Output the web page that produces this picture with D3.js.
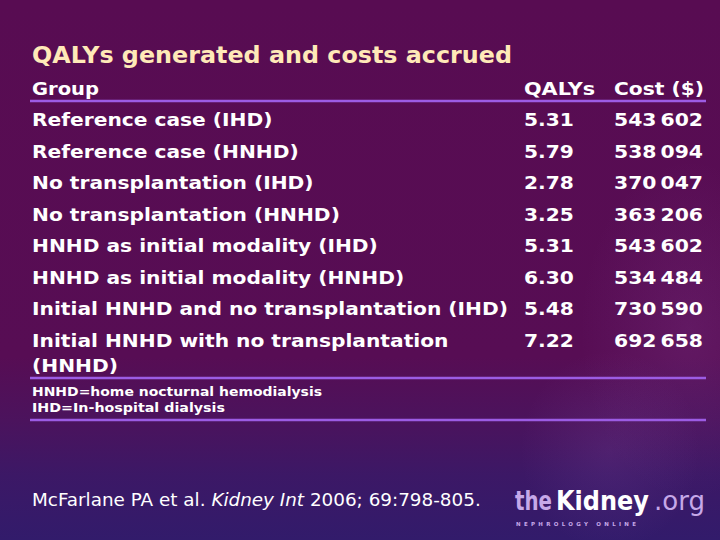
<!DOCTYPE html>
<html><head><meta charset="utf-8">
<script src="https://cdn.jsdelivr.net/npm/d3@7/dist/d3.min.js"></script>
<style>html,body{margin:0;padding:0;background:#580c52;}svg{display:block;}</style>
</head><body>
<script>
const title = "QALYs generated and costs accrued";
const headers = ["Group", "QALYs", "Cost ($)"];
const groups = [
  "Reference case (IHD)",
  "Reference case (HNHD)",
  "No transplantation (IHD)",
  "No transplantation (HNHD)",
  "HNHD as initial modality (IHD)",
  "HNHD as initial modality (HNHD)",
  "Initial HNHD and no transplantation (IHD)",
  "Initial HNHD with no transplantation\n(HNHD)"
];
const qalys = [5.31, 5.79, 2.78, 3.25, 5.31, 6.30, 5.48, 7.22];
const costs = [543602, 538094, 370047, 363206, 543602, 534484, 730590, 692658];
const footnotes = ["HNHD=home nocturnal hemodialysis", "IHD=In-hospital dialysis"];
const citation = [["McFarlane PA et al. ", "normal"], ["Kidney Int", "italic"], [" 2006; 69:798-805.", "normal"]];

const W = 720, H = 540;
const FONT = "'DejaVu Sans', Verdana, sans-serif";
const svg = d3.select("body").append("svg").attr("width", W).attr("height", H);
const defs = svg.append("defs");
const bg = defs.append("linearGradient").attr("id", "bg").attr("x1", 0).attr("x2", 0).attr("y1", 0).attr("y2", 1);
[[0, "#580c52"], [0.66, "#570d54"], [0.78, "#4b135d"], [0.88, "#3c1866"], [1, "#321b6b"]]
  .forEach(([o, c]) => bg.append("stop").attr("offset", o).attr("stop-color", c));
svg.append("rect").attr("width", W).attr("height", H).attr("fill", "url(#bg)");

// faint decorative glow on the right
const rg = defs.append("radialGradient").attr("id", "glow");
rg.append("stop").attr("offset", 0).attr("stop-color", "#b070d0").attr("stop-opacity", 0.12);
rg.append("stop").attr("offset", 1).attr("stop-color", "#b070d0").attr("stop-opacity", 0);
svg.append("ellipse").attr("cx", 690).attr("cy", 330).attr("rx", 110).attr("ry", 170).attr("fill", "url(#glow)");
svg.append("ellipse").attr("cx", 610).attr("cy", 450).attr("rx", 90).attr("ry", 100).attr("fill", "url(#glow)");

function natWidth(text, weight, size) {
  const t = svg.append("text").attr("font-family", FONT).attr("font-weight", weight)
    .attr("font-size", size).text(text);
  const w = t.node().getComputedTextLength();
  t.remove();
  return w;
}

const xGroup = 32, xQ = 524, xC = 614;
const fmtCost = v => d3.format(",")(v).replace(/,/g, "\u2009");

// Title
svg.append("text").attr("x", xGroup).attr("y", 63).attr("font-family", FONT).attr("font-weight", "bold")
  .attr("font-size", 23).attr("textLength", 480).attr("lengthAdjust", "spacingAndGlyphs")
  .attr("fill", "#ffe9b8").text(title);

// Header
const hdrX = [xGroup, xQ, xC], hdrW = [67, 71, 90];
svg.selectAll("text.hdr").data(headers).join("text").attr("class", "hdr")
  .attr("x", (d, i) => hdrX[i]).attr("y", 95).attr("font-family", FONT).attr("font-weight", "bold")
  .attr("font-size", 18).attr("textLength", (d, i) => hdrW[i]).attr("lengthAdjust", "spacingAndGlyphs")
  .attr("fill", "#ffffff").text(d => d);

const lineColor = "#9c5ce4";
[101, 378, 420].forEach(yy => svg.append("line").attr("x1", 30).attr("x2", 706).attr("y1", yy).attr("y2", yy)
  .attr("stroke", lineColor).attr("stroke-width", 2.5));

// Rows: 18px bold, compressed horizontally to the reference widths
const rowSize = 18;
const k = 476 / natWidth("Initial HNHD and no transplantation (IHD)", "bold", rowSize);
const y = d3.scalePoint().domain(d3.range(groups.length)).range([126, 347]);
const rows = svg.selectAll("g.row").data(groups).join("g").attr("class", "row")
  .attr("transform", (d, i) => `translate(0,${y(i)})`);
rows.each(function(d, i) {
  const g = d3.select(this);
  d.split("\n").forEach((line, j) => {
    g.append("text").attr("x", xGroup).attr("y", j * 25).attr("font-family", FONT).attr("font-weight", "bold")
      .attr("font-size", rowSize).attr("fill", "#ffffff")
      .attr("textLength", natWidth(line, "bold", rowSize) * k).attr("lengthAdjust", "spacingAndGlyphs")
      .text(line);
  });
  const q = qalys[i].toFixed(2), c = fmtCost(costs[i]);
  g.append("text").attr("x", xQ).attr("font-family", FONT).attr("font-weight", "bold")
    .attr("font-size", rowSize).attr("fill", "#ffffff")
    .attr("textLength", natWidth(q, "bold", rowSize) * k).attr("lengthAdjust", "spacingAndGlyphs").text(q);
  g.append("text").attr("x", xC).attr("font-family", FONT).attr("font-weight", "bold")
    .attr("font-size", rowSize).attr("fill", "#ffffff")
    .attr("textLength", 89).attr("lengthAdjust", "spacingAndGlyphs").text(c);
});

// Footnotes
const footW = [290, 193];
svg.selectAll("text.foot").data(footnotes).join("text").attr("class", "foot")
  .attr("x", xGroup).attr("y", (d, i) => 396 + i * 16).attr("font-family", FONT).attr("font-weight", "bold")
  .attr("font-size", 13).attr("textLength", (d, i) => footW[i]).attr("lengthAdjust", "spacingAndGlyphs")
  .attr("fill", "#ffffff").text(d => d);

// Citation
const citeText = svg.append("text").attr("x", xGroup).attr("y", 506).attr("font-family", FONT)
  .attr("font-size", 16).attr("fill", "#ffffff");
citeText.selectAll("tspan").data(citation).join("tspan").attr("font-style", d => d[1]).text(d => d[0]);
const cw = citeText.node().getComputedTextLength();
citeText.attr("font-size", 16 * 449 / cw);

// Logo (three separate pieces, each horizontally scaled to its width)
const logoParts = [
  { t: "the", x: 515, w: 37, fill: "#c6a8e8", wt: "bold" },
  { t: "Kidney", x: 556, w: 93, fill: "#ffffff", wt: "900" },
  { t: ".org", x: 654, w: 51, fill: "#c6a8e8", wt: "normal" }
];
logoParts.forEach(p => {
  const sx = p.w / natWidth(p.t, p.wt, 26);
  svg.append("g").attr("transform", `translate(${p.x},510) scale(${sx},1)`)
    .append("text").attr("font-family", FONT).attr("font-size", 26).attr("font-weight", p.wt)
    .attr("fill", p.fill).text(p.t);
});
svg.append("text").attr("x", 516).attr("y", 526).attr("font-family", FONT).attr("font-weight", "bold")
  .attr("font-size", 5.5).attr("textLength", 120).attr("lengthAdjust", "spacing")
  .attr("fill", "#c6a8e8").text("NEPHROLOGY ONLINE");
</script>
</body></html>
